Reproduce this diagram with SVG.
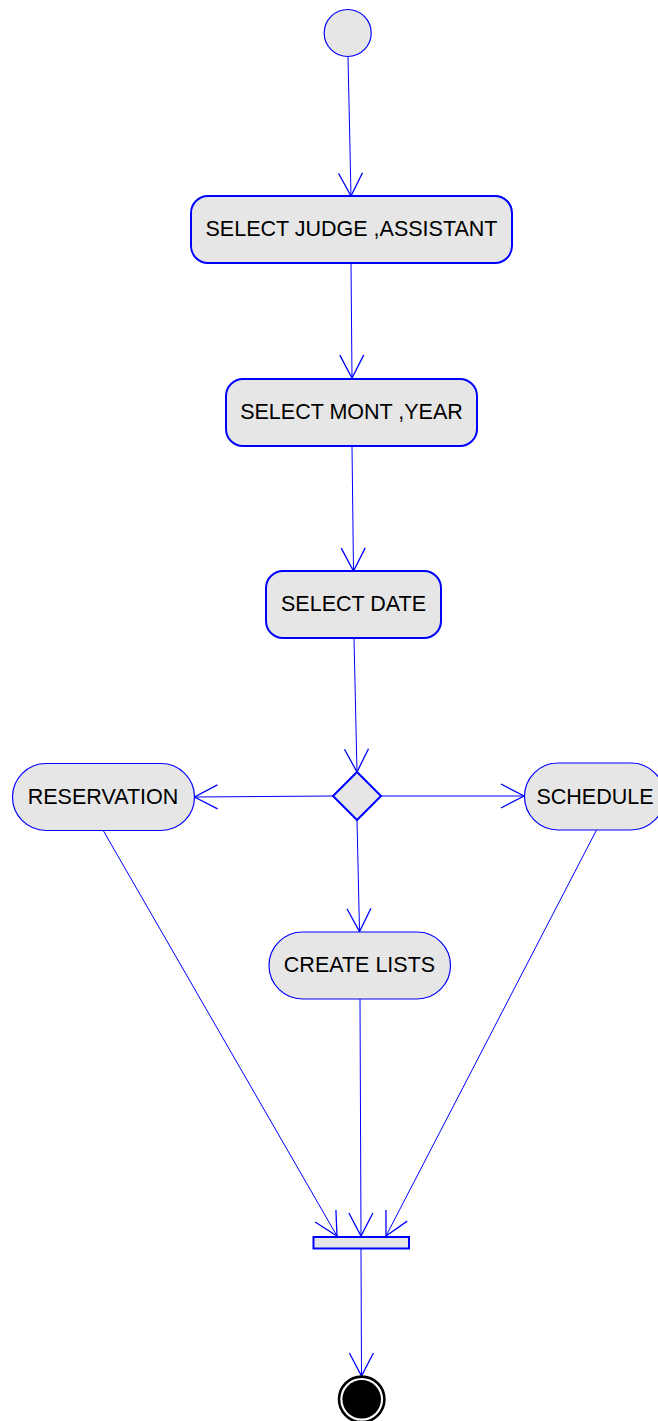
<svg xmlns="http://www.w3.org/2000/svg" width="658" height="1421" viewBox="0 0 658 1421">
  <style>
    .action { fill: #e6e6e6; stroke: #0000ff; stroke-width: 2; }
    .state { fill: #e6e6e6; stroke: #0000ff; stroke-width: 1.2; }
    .label { font-family: "Liberation Sans", Arial, sans-serif; font-size: 21.5px; fill: #000000; text-anchor: middle; }
    .edge { fill: none; stroke: #0000ff; stroke-width: 1; marker-end: url(#open); }
  </style>
  <defs>
    <marker id="open" markerUnits="userSpaceOnUse" markerWidth="30" markerHeight="30" viewBox="-25 -15 30 30" refX="0" refY="0" orient="auto" overflow="visible">
      <path d="M-23,-12 L0,0 L-23,12" fill="none" stroke="#0000ff" stroke-width="1.3"/>
    </marker>
  </defs>

  <rect width="658" height="1421" fill="#ffffff"/>

  <g id="connectors">
    <line class="edge" x1="348" y1="57" x2="351" y2="196"/>
    <line class="edge" x1="351" y1="263" x2="352" y2="378"/>
    <line class="edge" x1="352" y1="446" x2="353.5" y2="571"/>
    <line class="edge" x1="354" y1="638" x2="357" y2="772"/>
    <line class="edge" x1="333" y1="796" x2="194.5" y2="797"/>
    <line class="edge" x1="381" y1="796" x2="524" y2="796"/>
    <line class="edge" x1="357" y1="820" x2="359.5" y2="931.5"/>
    <line class="edge" x1="103.5" y1="831" x2="337" y2="1236"/>
    <line class="edge" x1="360" y1="999" x2="361" y2="1236"/>
    <line class="edge" x1="596.5" y1="830" x2="386" y2="1236"/>
    <line class="edge" x1="361" y1="1249" x2="361.5" y2="1376"/>
  </g>

  <g id="start">
    <circle cx="347.7" cy="33" r="23.5" fill="#e6e6e6" stroke="#0000ff" stroke-width="1.2"/>
  </g>

  <g id="select-judge">
    <rect class="action" x="191" y="196" width="321" height="67" rx="17" ry="17"/>
    <text class="label" x="351.5" y="236">SELECT JUDGE ,ASSISTANT</text>
  </g>

  <g id="select-month">
    <rect class="action" x="226" y="379" width="251" height="67" rx="17" ry="17"/>
    <text class="label" x="351.5" y="419">SELECT MONT ,YEAR</text>
  </g>

  <g id="select-date">
    <rect class="action" x="266" y="571" width="175" height="67" rx="17" ry="17"/>
    <text class="label" x="353.5" y="611">SELECT DATE</text>
  </g>

  <g id="decision">
    <polygon points="357,772 381,796 357,820 333,796" fill="#e6e6e6" stroke="#0000ff" stroke-width="2"/>
  </g>

  <g id="reservation">
    <rect class="state" x="12.5" y="763.5" width="182" height="67" rx="33.5" ry="33.5"/>
    <text class="label" x="103" y="804">RESERVATION</text>
  </g>

  <g id="schedule">
    <rect class="state" x="524.5" y="763" width="140" height="67" rx="33.5" ry="33.5"/>
    <text class="label" x="595" y="803.5">SCHEDULE</text>
  </g>

  <g id="create-lists">
    <rect class="state" x="269" y="932" width="181.5" height="67" rx="33.5" ry="33.5"/>
    <text class="label" x="359.5" y="972">CREATE LISTS</text>
  </g>

  <g id="join">
    <rect x="313.5" y="1237" width="95.5" height="11.5" fill="#e6e6e6" stroke="#0000ff" stroke-width="2"/>
  </g>

  <g id="end">
    <circle cx="361.7" cy="1399.3" r="22.7" fill="#ffffff" stroke="#000000" stroke-width="2.6"/>
    <circle cx="361.7" cy="1399.3" r="19.3" fill="#000000"/>
  </g>
</svg>
